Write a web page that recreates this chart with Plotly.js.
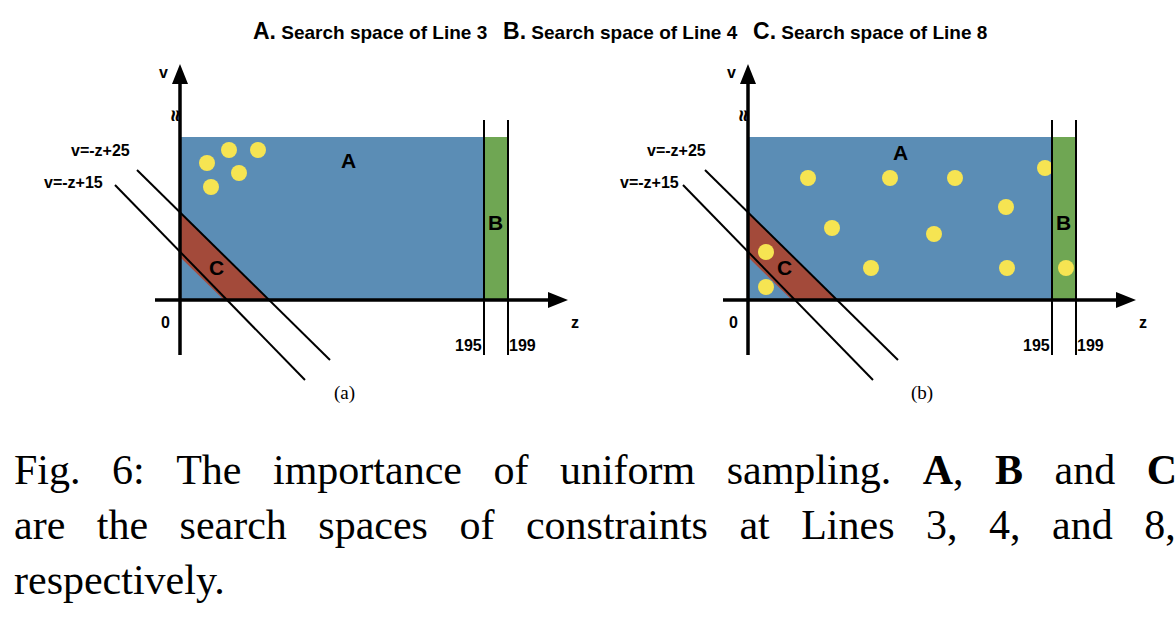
<!DOCTYPE html>
<html><head><meta charset="utf-8">
<script src="https://cdn.plot.ly/plotly-3.0.1.min.js"></script>
<style>body{margin:0;background:#fff}#fig{width:1176px;height:630px}</style>
</head><body><div id="fig"></div>
<script>
// panel origins (pixel position of z=0,v=0 on the drawing)
const panelX = [180, 748];
const panelTags = ['(a)', '(b)'];
// yellow sample points, offsets from each panel origin
const dotsA_dx = [27, 49, 78, 59, 31];
const dotsA_dy = [-137, -150, -150, -127, -113];
const dotsB_dx = [60, 142, 207, 297, 258, 84, 186, 18, 123, 259, 318, 18];
const dotsB_dy = [-122, -122, -122, -132, -93, -72, -66, -48, -32, -32, -32, -13];
const tickLabels = ['195', '199'];
const lineLabels = ['v=-z+25', 'v=-z+15'];

const Y0 = 300, BLUE = '#5b8db5', GREEN = '#6fa653', RED = '#a34a3a', YEL = '#f6e452';
const shapes = [], ann = [], traces = [];
const dots = [[dotsA_dx, dotsA_dy], [dotsB_dx, dotsB_dy]];

panelX.forEach((X, i) => {
  shapes.push({type:'rect', x0:X, x1:X+304, y0:137, y1:Y0, fillcolor:BLUE, line:{width:0}, layer:'below'});
  shapes.push({type:'rect', x0:X+304, x1:X+328, y0:137, y1:Y0, fillcolor:GREEN, line:{width:0}, layer:'below'});
  shapes.push({type:'path', path:`M${X},213 L${X+88},${Y0} L${X+44},${Y0} L${X},257 Z`, fillcolor:RED, line:{width:0}, layer:'below'});
  [304, 328].forEach(dx => shapes.push({type:'line', x0:X+dx, x1:X+dx, y0:120, y1:355, line:{color:'#000', width:2}}));
  shapes.push({type:'line', x0:X, x1:X, y0:355, y1:80, line:{color:'#000', width:3.5}});
  shapes.push({type:'line', x0:X-25, x1:X+375, y0:Y0, y1:Y0, line:{color:'#000', width:3.5}});
  shapes.push({type:'path', path:`M${X},64 L${X-8},84 L${X+8},84 Z`, fillcolor:'#000', line:{width:0}});
  shapes.push({type:'path', path:`M${X+388},${Y0} L${X+368},${Y0-8} L${X+368},${Y0+8} Z`, fillcolor:'#000', line:{width:0}});
  shapes.push({type:'line', x0:X-43, y0:170, x1:X+150, y1:360, line:{color:'#000', width:2}});
  shapes.push({type:'line', x0:X-65, y0:185, x1:X+125, y1:380, line:{color:'#000', width:2}});
  const f = {family:'Liberation Sans, Arial', size:16, color:'#000', weight:'bold'};
  const fb = {family:'Liberation Sans, Arial', size:21, color:'#000', weight:'bold'};
  ann.push({x:X-6, y:116, text:'<b>≈</b>', font:{size:22,color:'#000'}, textangle:-90});
  ann.push({x:X-17, y:72, text:'v', font:f});
  ann.push({x:X-15, y:322, text:'0', font:f});
  ann.push({x:X+395, y:322, text:'z', font:f});
  ann.push({x:X+288, y:345, text:tickLabels[0], font:f});
  ann.push({x:X+342, y:345, text:tickLabels[1], font:f});
  ann.push({x:X-80+(i?8:0), y:150, text:lineLabels[0], font:f});
  ann.push({x:X-107+(i?8:0), y:182, text:lineLabels[1], font:f});
  ann.push({x:X+(i?152:168), y:(i?152:160), text:'A', font:fb});
  ann.push({x:X+315, y:222, text:'B', font:fb});
  ann.push({x:X+36, y:267, text:'C', font:fb});
  ann.push({x:X+164+(i?10:0), y:393, text:panelTags[i], font:{family:'Liberation Serif', size:19, color:'#000'}});
  traces.push({type:'scatter', mode:'markers', x:dots[i][0].map(d => X+d), y:dots[i][1].map(d => Y0+d),
    marker:{size:16, color:YEL, line:{width:0}}, hoverinfo:'skip'});
});

ann.push({x:620, y:31, text:'<b><span style="font-size:23px">A.</span> Search space of Line 3&nbsp;&nbsp;&nbsp;<span style="font-size:23px">B.</span> Search space of Line 4&nbsp;&nbsp;&nbsp;<span style="font-size:23px">C.</span> Search space of Line 8</b>',
  font:{family:'Liberation Sans, Arial', size:19, color:'#000'}});
const sp = '&nbsp;&nbsp;&nbsp;';
const cap = [['Fig.','6:','The','importance','of','uniform','sampling.','<b>A</b>,','<b>B</b>','and','<b>C</b>'],
  ['are','the','search','spaces','of','constraints','at','Lines','3,','4,','and','8,'],
  ['respectively.']];
cap.forEach((w, k) => ann.push({x:12, y:470+k*55, text:w.join(sp), xanchor:'left', font:{family:'Liberation Serif', size:42, color:'#000'}}));
ann.forEach(a => { a.showarrow = false; a.xref = 'x'; a.yref = 'y'; });

Plotly.newPlot('fig', traces, {
  width:1176, height:630, margin:{l:0,r:0,t:0,b:0}, showlegend:false,
  paper_bgcolor:'#fff', plot_bgcolor:'#fff',
  xaxis:{range:[0,1176], visible:false, fixedrange:true},
  yaxis:{range:[630,0], visible:false, fixedrange:true},
  shapes:shapes, annotations:ann
}, {staticPlot:true});
</script></body></html>
